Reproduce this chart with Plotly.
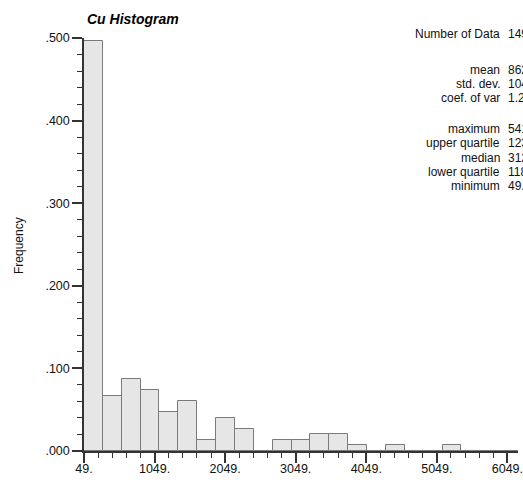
import plotly.graph_objects as go

# ---------------- data ----------------
bin_start = 49.0
bin_width = 267.4
frequency = [0.4966, 0.0671, 0.0872, 0.0738, 0.0470, 0.0604, 0.0134, 0.0403,
             0.0268, 0.0000, 0.0134, 0.0134, 0.0201, 0.0201, 0.0067, 0.0000,
             0.0067, 0.0000, 0.0000, 0.0067, 0.0000, 0.0000, 0.0000]

x_tick_vals = [49, 1049, 2049, 3049, 4049, 5049, 6049]
x_tick_text = ["49.", "1049.", "2049.", "3049.", "4049.", "5049.", "6049."]
y_tick_vals = [0.0, 0.1, 0.2, 0.3, 0.4, 0.5]
y_tick_text = [".000", ".100", ".200", ".300", ".400", ".500"]

stat_labels = ["Number of Data", "mean", "std. dev.", "coef. of var",
               "maximum", "upper quartile", "median", "lower quartile", "minimum"]
stat_values = ["149", "862.45", "1043.71", "1.21",
               "5412.00", "1235.00", "312.00", "118.00", "49.00"]

title_text = "Cu Histogram"
y_title = "Frequency"

# ---------------- figure ----------------
W, H = 523, 484
ml, mr, mt, mb = 84, 5, 38, 33
pw, ph = W - ml - mr, H - mt - mb

centers = [bin_start + bin_width * (i + 0.5) for i in range(len(frequency))]

fig = go.Figure()
fig.add_trace(go.Bar(
    x=centers, y=frequency, width=[bin_width] * len(frequency),
    marker=dict(color="#e6e6e6", line=dict(color="#7a7a7a", width=1)),
    hoverinfo="x+y",
))

font = "Liberation Sans, Arial, Helvetica, sans-serif"
axis_col = "#333333"

fig.update_layout(
    template="none",
    width=W, height=H, autosize=False,
    margin=dict(l=ml, r=mr, t=mt, b=mb, pad=0, autoexpand=False),
    paper_bgcolor="white", plot_bgcolor="white",
    showlegend=False, bargap=0,
    font=dict(family=font, size=12, color="#111111"),
    xaxis=dict(
        range=[bin_start, bin_start + bin_width * len(frequency)],
        automargin=False,
        showgrid=False, zeroline=False,
        showline=True, linecolor=axis_col, linewidth=1.5,
        ticks="outside", ticklen=10, tickwidth=1.5, tickcolor=axis_col,
        tickmode="array", tickvals=x_tick_vals, ticktext=x_tick_text,
        tickfont=dict(size=12.5, color="#111111"),
        ticklabeloverflow="allow", ticklabelstandoff=-5,
        minor=dict(tickmode="linear", tick0=49, dtick=200, ticks="outside",
                   ticklen=5, tickwidth=1.2, tickcolor=axis_col, showgrid=False),
        fixedrange=True,
    ),
    yaxis=dict(
        range=[0, 0.5],
        automargin=False,
        showgrid=False, zeroline=False,
        showline=True, linecolor=axis_col, linewidth=1.5,
        ticks="outside", ticklen=10, tickwidth=1.5, tickcolor=axis_col,
        tickmode="array", tickvals=y_tick_vals, ticktext=y_tick_text,
        tickfont=dict(size=12.5, color="#111111"),
        ticklabeloverflow="allow",
        minor=dict(tickmode="linear", tick0=0, dtick=0.02, ticks="outside",
                   ticklen=5, tickwidth=1.2, tickcolor=axis_col, showgrid=False),
        fixedrange=True,
    ),
)

def px_x(px):
    return (px - ml) / pw

def px_y(py):
    return 1 - (py - mt) / ph

ann = []
ann.append(dict(text="<b><i>" + title_text + "</i></b>", x=px_x(85), y=px_y(19),
                xref="paper", yref="paper", xanchor="left", yanchor="middle",
                showarrow=False, font=dict(size=14, family=font, color="#000000")))
ann.append(dict(text=y_title, x=px_x(19), y=px_y(246), textangle=-90,
                xref="paper", yref="paper", xanchor="center", yanchor="middle",
                showarrow=False, font=dict(size=12, family=font, color="#111111")))

row_y = [34, 70, 84, 98, 129, 143, 158, 172, 186]
for lab, val, yy in zip(stat_labels, stat_values, row_y):
    ann.append(dict(text=lab, x=px_x(502), y=px_y(yy), xref="paper", yref="paper",
                    xanchor="right", yanchor="middle", showarrow=False,
                    font=dict(size=12, family=font, color="#111111")))
    ann.append(dict(text=val, x=px_x(506), y=px_y(yy), xref="paper", yref="paper",
                    xanchor="left", yanchor="middle", showarrow=False,
                    font=dict(size=12, family=font, color="#111111")))
fig.update_layout(annotations=ann)

fig.write_html("out.html", config={"displayModeBar": False},
               post_script="document.body.style.margin='0';")
